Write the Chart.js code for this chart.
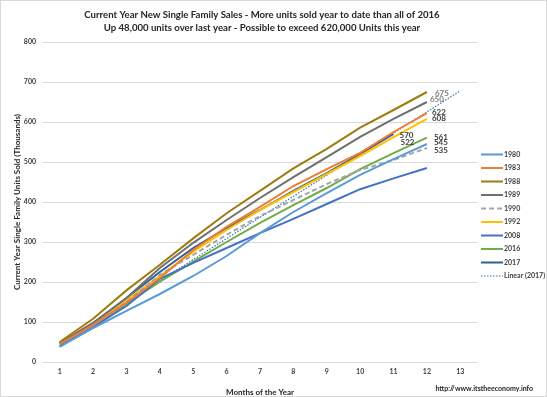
<!DOCTYPE html>
<html><head><meta charset="utf-8">
<script src="https://cdn.jsdelivr.net/npm/chart.js@4"></script>
<style>html,body{margin:0;padding:0;background:#fff;}#wrap{width:547px;height:397px;position:relative;}</style>
</head><body><div id="wrap"><canvas id="c"></canvas></div>
<script>
const months = ['1','2','3','4','5','6','7','8','9','10','11','12','13'];
const yTickStep = 100;
const yMax = 800;
const s1980 = [38, 85, 128, 170, 215, 265, 322, 375, 422, 468, 507, 545];
const s1983 = [45, 93, 148, 210, 280, 338, 388, 440, 482, 523, 575, 622];
const s1988 = [50, 108, 179, 243, 309, 372, 428, 484, 533, 586, 630, 675];
const s1989 = [47, 98, 160, 235, 298, 355, 410, 462, 512, 563, 608, 650];
const s1990 = [45, 93, 150, 218, 268, 318, 365, 405, 445, 480, 505, 535];
const s1992 = [48, 97, 155, 215, 276, 330, 380, 425, 470, 515, 562, 608];
const s2008 = [40, 88, 140, 208, 248, 285, 322, 358, 395, 432, 459, 485];
const s2016 = [40, 85, 145, 201, 251, 300, 348, 392, 435, 482, 522, 561];
const s2017 = [45, 95, 160, 225, 285, 335, 380, 428, 472, 520, 570];
const trend2017 = [45, null, null, null, null, null, null, null, null, null, null, null, 678];
const seriesNames = ['1980','1983','1988','1989','1990','1992','2008','2016','2017','Linear (2017)'];
const titleLines = ['Current Year New Single Family Sales - More units sold year to date than all of 2016',
                    'Up 48,000 units over last year - Possible to exceed 620,000 Units this year'];
const yTitle = 'Current Year Single Family Units Sold (Thousands)';
const xTitle = 'Months of the Year';
const sourceText = 'http://www.itstheeconomy.info';
// value labels: [dataset index, point index, text]
const valueLabels = [[2,11,'675'],[3,11,'650'],[1,11,'622'],[5,11,'608'],[8,10,'570'],[7,10,'522'],[7,11,'561'],[0,11,'545'],[4,11,'535']];
const labelStyle = {'675':[8,1,'#808080'],'650':[3,-3,'#808080'],'622':[5,-1,'#404040'],'608':[5,0,'#404040'],'570':[6,1,'#404040'],'522':[7,-11,'#404040'],'561':[7,0,'#404040'],'545':[7,-2,'#404040'],'535':[7,2,'#404040']};

const FONT = 'Lato, "Liberation Sans", sans-serif';
const colors = ['#5B9BD5','#ED7D31','#A07C10','#6F6F6F','#A5A5A5','#FFC000','#4472C4','#70AD47','#2F5F98','#2E75B6'];
const dataArrays = [s1980,s1983,s1988,s1989,s1990,s1992,s2008,s2016,s2017,trend2017];

const datasets = dataArrays.map((d,i)=>({
  label: seriesNames[i],
  data: d,
  borderColor: colors[i],
  backgroundColor: colors[i],
  borderWidth: i===9 ? 1.2 : 2,
  borderDash: i===4 ? [5,3] : (i===9 ? [1.5,1.5] : []),
  pointRadius: 0,
  tension: 0,
  spanGaps: true,
  fill: false
}));

const decor = {
  id: 'decor',
  afterDraw(chart){
    const ctx = chart.ctx;
    ctx.save();
    ctx.strokeStyle = '#D9D9D9'; ctx.lineWidth = 1;
    ctx.strokeRect(0.5,0.5,546,396);
    ctx.fillStyle = '#262626';
    ctx.font = 'bold 9.6px ' + FONT;
    ctx.textAlign = 'center'; ctx.textBaseline = 'middle';
    ctx.fillText(titleLines[0], 262, 14.5);
    ctx.fillText(titleLines[1], 262, 27.5);
    const xs = chart.scales.x, ys = chart.scales.y;
    ctx.font = 'bold 8px ' + FONT;
    ctx.textAlign = 'left';
    valueLabels.forEach(([di,pi,t])=>{
      const v = chart.data.datasets[di].data[pi];
      const st = labelStyle[t];
      ctx.fillStyle = st[2];
      ctx.fillText(t, xs.getPixelForValue(pi) + st[0], ys.getPixelForValue(v) + st[1]);
    });
    ctx.font = 'bold 7px ' + FONT;
    chart.data.datasets.forEach((ds,i)=>{
      const y = 154.5 + i*13.5;
      ctx.strokeStyle = ds.borderColor;
      ctx.lineWidth = ds.borderWidth;
      ctx.setLineDash(ds.borderDash);
      ctx.beginPath(); ctx.moveTo(481,y); ctx.lineTo(503,y); ctx.stroke();
      ctx.setLineDash([]);
      ctx.fillStyle = '#404040';
      ctx.fillText(ds.label, 504, y);
    });
    ctx.font = 'bold 7px ' + FONT;
    ctx.fillStyle = '#262626';
    ctx.textAlign = 'right';
    ctx.fillText(sourceText, 533, 389);
    ctx.restore();
  }
};

new Chart(document.getElementById('c'), {
  type: 'line',
  data: { labels: months, datasets },
  plugins: [decor],
  options: {
    responsive: true, maintainAspectRatio: false, animation: false,
    layout: { padding: { left: 0, right: 70, top: 42, bottom: 0 } },
    plugins: { legend: { display: false }, title: { display: false }, tooltip: { enabled: false } },
    scales: {
      x: {
        type: 'category', offset: true,
        grid: { display: false, drawTicks: false },
        border: { display: false },
        ticks: { color: '#404040', font: { family: FONT, size: 7, weight: 'bold' }, padding: 6, maxRotation: 0, autoSkip: false },
        title: { display: true, text: xTitle, color: '#262626', font: { family: FONT, size: 8, weight: 'bold' }, padding: { top: 11, bottom: 0 } },
        afterFit(s){ s.height = 35; }
      },
      y: {
        min: 0, max: yMax,
        grid: { color: '#D9D9D9', drawTicks: false, lineWidth: 1 },
        border: { display: false },
        ticks: { stepSize: yTickStep, color: '#404040', font: { family: FONT, size: 7, weight: 'bold' }, padding: 7 },
        title: { display: true, text: yTitle, color: '#262626', font: { family: FONT, size: 8, weight: 'bold' }, padding: { top: 13, bottom: 0 } },
        afterFit(s){ s.width = 43; }
      }
    }
  }
});
</script></body></html>
